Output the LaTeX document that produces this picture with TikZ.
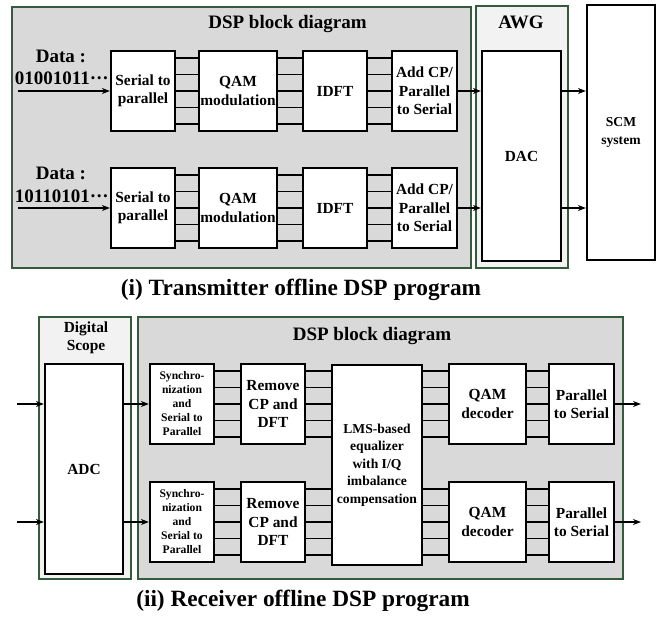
\documentclass[tikz,border=0pt]{standalone}
\usepackage{fontspec}
\setmainfont{Liberation Serif}
\usetikzlibrary{arrows.meta,calc}
\definecolor{panelgreen}{RGB}{52,92,60}
\definecolor{dspgray}{RGB}{217,217,217}
\definecolor{hwgray}{RGB}{242,242,242}
\tikzset{
  panel/.style={draw=panelgreen,line width=1.4pt,fill=dspgray},
  hwpanel/.style={draw=panelgreen,line width=1.4pt,fill=hwgray},
  blk/.style={draw=black,line width=2.2pt,fill=white,inner sep=0pt,align=center,
    font=\bfseries\fontsize{15.4}{18.3}\selectfont},
  smallblk/.style={blk,font=\bfseries\fontsize{11.6}{14}\selectfont},
  lbl/.style={inner sep=0pt,align=center,font=\bfseries\fontsize{15.4}{18}\selectfont},
  datalbl/.style={inner sep=0pt,font=\bfseries\fontsize{19}{21}\selectfont},
  ttl/.style={inner sep=0pt,font=\bfseries\fontsize{19}{21}\selectfont},
  captext/.style={inner sep=0pt,font=\bfseries\fontsize{23.3}{26}\selectfont},
  bus/.style={line width=1.6pt},
  sig/.style={line width=1.5pt,-{Stealth[length=8pt,width=6pt]}},
}
\newcommand{\busfracs}{0.1,0.3,0.5,0.7,0.9}
\begin{document}
\begin{tikzpicture}[x=1pt,y=-1pt]
\useasboundingbox (0,0) rectangle (656,616);

% ---------------- Transmitter ----------------
\node[panel,minimum width=459,minimum height=261,inner sep=0pt] (txdsp) at (241.5,137.5) {};
\node[hwpanel,minimum width=92,minimum height=262,inner sep=0pt] (awg) at (522,137) {};
\node[ttl] (txttl) at (287.5,24) {DSP block diagram};
\node[ttl] (awgttl) at (521,22) {AWG};

\node[blk,minimum width=64,minimum height=80] (sp1) at (143,91) {Serial to\\parallel};
\node[blk,minimum width=78,minimum height=80] (qam1) at (238,91) {QAM\\modulation};
\node[blk,minimum width=64,minimum height=80] (idft1) at (335,91) {IDFT};
\node[blk,minimum width=65,minimum height=80] (cp1) at (424.5,91) {Add CP/\\Parallel\\to Serial};

\node[blk,minimum width=64,minimum height=80] (sp2) at (143,208) {Serial to\\parallel};
\node[blk,minimum width=78,minimum height=80] (qam2) at (238,208) {QAM\\modulation};
\node[blk,minimum width=64,minimum height=80] (idft2) at (335,208) {IDFT};
\node[blk,minimum width=65,minimum height=80] (cp2) at (424.5,208) {Add CP/\\Parallel\\to Serial};

\node[blk,minimum width=79,minimum height=210] (dac) at (521.5,156) {DAC};
\node[blk,minimum width=68,minimum height=255,font=\bfseries\fontsize{13.6}{18}\selectfont] (scm) at (621,132.5) {SCM\\system};

\foreach \a/\b in {sp1/qam1,qam1/idft1,idft1/cp1,sp2/qam2,qam2/idft2,idft2/cp2}
  \foreach \f in \busfracs
    \draw[bus] ($(\a.north east)!\f!(\a.south east)$) -- ($(\b.north west)!\f!(\b.south west)$);

\node[datalbl] (data1) at (61,56) {Data :};
\node[datalbl,anchor=east] (bits1) at (109,78) {01001011···};
\node[datalbl] (data2) at (61,173) {Data :};
\node[datalbl,anchor=east] (bits2) at (109,196) {10110101···};
\coordinate (in1) at (18,91);
\coordinate (in2) at (18,208);
\draw[sig] (in1) -- (sp1.west);
\draw[sig] (in2) -- (sp2.west);

\draw[sig] (cp1.east) -- (cp1.east -| dac.west);
\draw[sig] (cp2.east) -- (cp2.east -| dac.west);
\draw[sig] (dac.east |- cp1.east) -- (scm.west |- cp1.east);
\draw[sig] (dac.east |- cp2.east) -- (scm.west |- cp2.east);

\node[captext] (txcap) at (301,290) {(i) Transmitter offline DSP program};

% ---------------- Receiver ----------------
\node[hwpanel,minimum width=92,minimum height=262,inner sep=0pt] (scope) at (85,448) {};
\node[panel,minimum width=485,minimum height=262,inner sep=0pt] (rxdsp) at (380.5,448) {};
\node[lbl] (scopettl) at (86,338) {Digital\\Scope};
\node[ttl] (rxttl) at (372,336) {DSP block diagram};

\node[blk,minimum width=78,minimum height=210] (adc) at (84,469) {ADC};

\node[smallblk,minimum width=64,minimum height=80] (sy1) at (182,404) {Synchro-\\nization\\and\\Serial to\\Parallel};
\node[blk,minimum width=64,minimum height=80] (rm1) at (273,404) {Remove\\CP and\\DFT};
\node[smallblk,minimum width=64,minimum height=80] (sy2) at (182,522) {Synchro-\\nization\\and\\Serial to\\Parallel};
\node[blk,minimum width=64,minimum height=80] (rm2) at (273,522) {Remove\\CP and\\DFT};

\node[blk,minimum width=90,minimum height=200,font=\bfseries\fontsize{13.6}{17.4}\selectfont] (lms) at (377,465)
  {LMS-based\\equalizer\\with I/Q\\imbalance\\compensation};

\node[blk,minimum width=77,minimum height=80] (qd1) at (487.5,404) {QAM\\decoder};
\node[blk,minimum width=65,minimum height=80] (ps1) at (581.5,404) {Parallel\\to Serial};
\node[blk,minimum width=77,minimum height=80] (qd2) at (487.5,522) {QAM\\decoder};
\node[blk,minimum width=65,minimum height=80] (ps2) at (581.5,522) {Parallel\\to Serial};

\foreach \a/\b in {sy1/rm1,sy2/rm2,qd1/ps1,qd2/ps2}
  \foreach \f in \busfracs
    \draw[bus] ($(\a.north east)!\f!(\a.south east)$) -- ($(\b.north west)!\f!(\b.south west)$);

\foreach \r in {rm1,rm2}
  \foreach \f in \busfracs {
    \path ($(\r.north east)!\f!(\r.south east)$) coordinate (busA);
    \draw[bus] (busA) -- (busA -| lms.west);
  }
\foreach \q in {qd1,qd2}
  \foreach \f in \busfracs {
    \path ($(\q.north west)!\f!(\q.south west)$) coordinate (busB);
    \draw[bus] (busB -| lms.east) -- (busB);
  }

\coordinate (rin1) at (17,404);
\coordinate (rin2) at (17,522);
\draw[sig] (rin1) -- (rin1 -| adc.west);
\draw[sig] (rin2) -- (rin2 -| adc.west);
\draw[sig] (adc.east |- sy1.west) -- (sy1.west);
\draw[sig] (adc.east |- sy2.west) -- (sy2.west);

\coordinate (out1) at (641,404);
\coordinate (out2) at (641,522);
\draw[sig] (ps1.east) -- (out1);
\draw[sig] (ps2.east) -- (out2);

\node[captext] (rxcap) at (303,601) {(ii) Receiver offline DSP program};
\end{tikzpicture}
\end{document}
